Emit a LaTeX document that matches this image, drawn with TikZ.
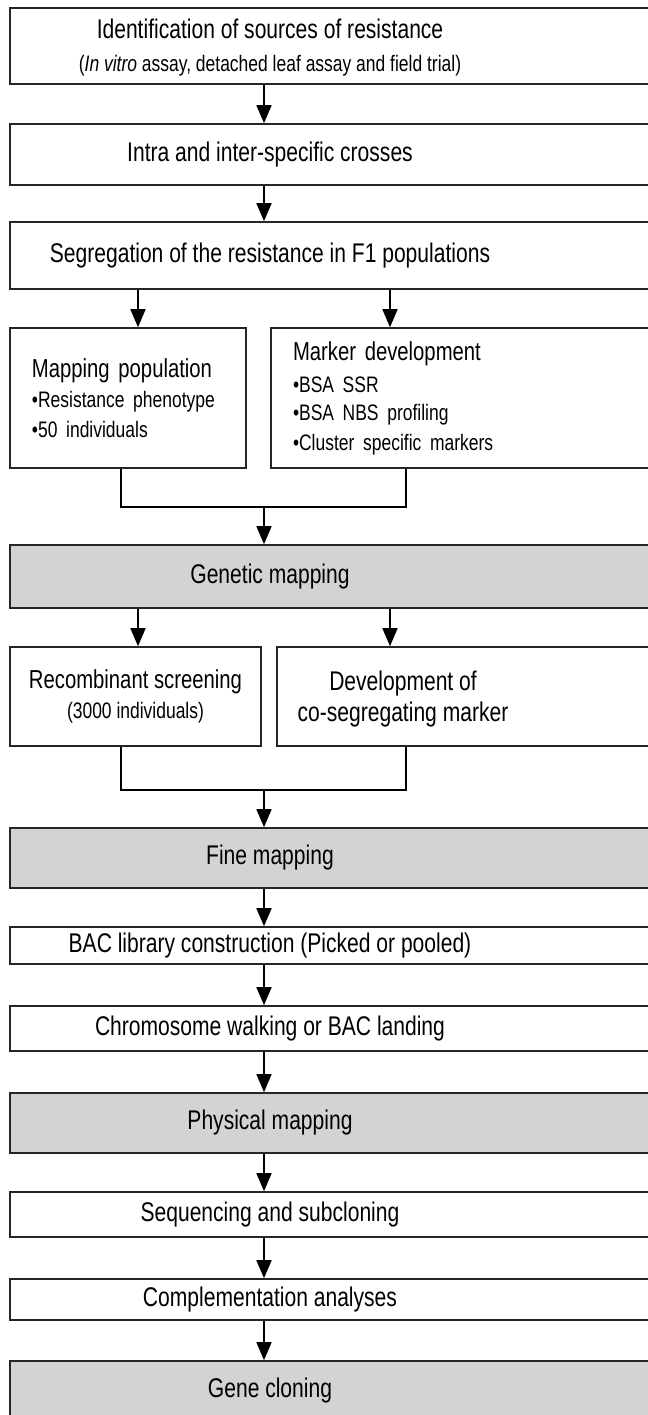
\documentclass[tikz,border=0pt]{standalone}
\usepackage{fontspec}
\setmainfont{Liberation Sans}[FakeStretch=0.78]
\usetikzlibrary{arrows.meta,calc}
\definecolor{stagegray}{RGB}{211,211,211}
\tikzset{box/.style={draw=black!85,line width=0.8pt,inner sep=0pt,align=center,font=\fontsize{13}{15}\selectfont},
  wide/.style={box,minimum width=321pt},
  stage/.style={wide,fill=stagegray},
  txt/.style={inner sep=0pt,align=center,font=\fontsize{13.5}{15.5}\selectfont},
  listbox/.style={box,align=left,inner xsep=11pt},
  arr/.style={-{Triangle[width=7.5pt,length=9pt]},line width=0.8pt},
  link/.style={line width=0.8pt}}
\newcommand{\subtext}{\fontsize{11.2}{14}\selectfont}
\begin{document}
\begin{tikzpicture}[x=0.5pt,y=-0.5pt]
\useasboundingbox (0,0) rectangle (648,1415);
\coordinate (mid) at (264,0); \coordinate (tx) at (270,0); \coordinate (lft) at (138,0); \coordinate (rgt) at (390,0);
\coordinate (lm) at (121,0); \coordinate (rm) at (406,0);
\coordinate (j1) at (264,507); \coordinate (j2) at (264,790);
\node[wide,minimum height=38pt] (ident) at (331,46) {};
\node[txt] (ident-t) at ($(ident -| tx)+(0,2)$) {Identification of sources of resistance\\[1pt]{\subtext(\emph{In vitro} assay, detached leaf assay and field trial)}};
\node[wide,minimum height=30.5pt] (cross) at (331,154.5) {}; \node[txt] (cross-t) at (cross -| tx) {Intra and inter-specific crosses};
\node[wide,minimum height=33.5pt] (segr) at (331,255.5) {}; \node[txt] (segr-t) at (segr -| tx) {Segregation of the resistance in F1 populations};
\node[listbox,text width=96pt,minimum height=70pt] (mappop) at (128,398) {Mapping population\\[1pt]{\subtext\textbullet Resistance phenotype\\\textbullet 50 individuals}};
\node[listbox,text width=168.5pt,minimum height=70pt] (markdev) at (461.5,398) {Marker development\\[2pt]{\subtext\textbullet BSA SSR\\\textbullet BSA NBS profiling\\\textbullet Cluster specific markers}};
\node[stage,minimum height=31.5pt] (genmap) at (331,576.5) {}; \node[txt] (genmap-t) at (genmap -| tx) {Genetic mapping};
\node[box,minimum width=125.5pt,minimum height=49.5pt] (recomb) at (135.5,696.5) {Recombinant screening\\{\subtext(3000 individuals)}};
\node[box,minimum width=187.5pt,minimum height=49.5pt] (cosegr) at (464.5,696.5) {}; \node[txt] (cosegr-t) at (403,699) {Development of\\co-segregating marker};
\node[stage,minimum height=30pt] (finemap) at (331,858) {}; \node[txt] (finemap-t) at (finemap -| tx) {Fine mapping};
\node[wide,minimum height=18.5pt] (baclib) at (331,945.5) {}; \node[txt] (baclib-t) at (baclib -| tx) {BAC library construction (Picked or pooled)};
\node[wide,minimum height=22.5pt] (walk) at (331,1028.5) {}; \node[txt] (walk-t) at (walk -| tx) {Chromosome walking or BAC landing};
\node[stage,minimum height=30pt] (physmap) at (331,1123) {}; \node[txt] (physmap-t) at (physmap -| tx) {Physical mapping};
\node[wide,minimum height=22.5pt] (seqsub) at (331,1214.5) {}; \node[txt] (seqsub-t) at (seqsub -| tx) {Sequencing and subcloning};
\node[wide,minimum height=20.5pt] (compl) at (331,1299.5) {}; \node[txt] (compl-t) at (compl -| tx) {Complementation analyses};
\node[stage,minimum height=29.5pt] (genecl) at (331,1390.5) {}; \node[txt] (genecl-t) at (genecl -| tx) {Gene cloning};
\draw[arr] (ident.south -| mid) -- (cross.north -| mid);
\draw[arr] (cross.south -| mid) -- (segr.north -| mid);
\draw[arr] (segr.south -| lft) -- (mappop.north -| lft); \draw[arr] (segr.south -| rgt) -- (markdev.north -| rgt);
\draw[link] (mappop.south -| lm) |- (j1) -| (markdev.south -| rm);
\draw[arr] (j1) -- (genmap.north -| mid);
\draw[arr] (genmap.south -| lft) -- (recomb.north -| lft); \draw[arr] (genmap.south -| rgt) -- (cosegr.north -| rgt);
\draw[link] (recomb.south -| lm) |- (j2) -| (cosegr.south -| rm);
\draw[arr] (j2) -- (finemap.north -| mid);
\draw[arr] (finemap.south -| mid) -- (baclib.north -| mid);
\draw[arr] (baclib.south -| mid) -- (walk.north -| mid);
\draw[arr] (walk.south -| mid) -- (physmap.north -| mid);
\draw[arr] (physmap.south -| mid) -- (seqsub.north -| mid);
\draw[arr] (seqsub.south -| mid) -- (compl.north -| mid);
\draw[arr] (compl.south -| mid) -- (genecl.north -| mid);
\end{tikzpicture}
\end{document}
